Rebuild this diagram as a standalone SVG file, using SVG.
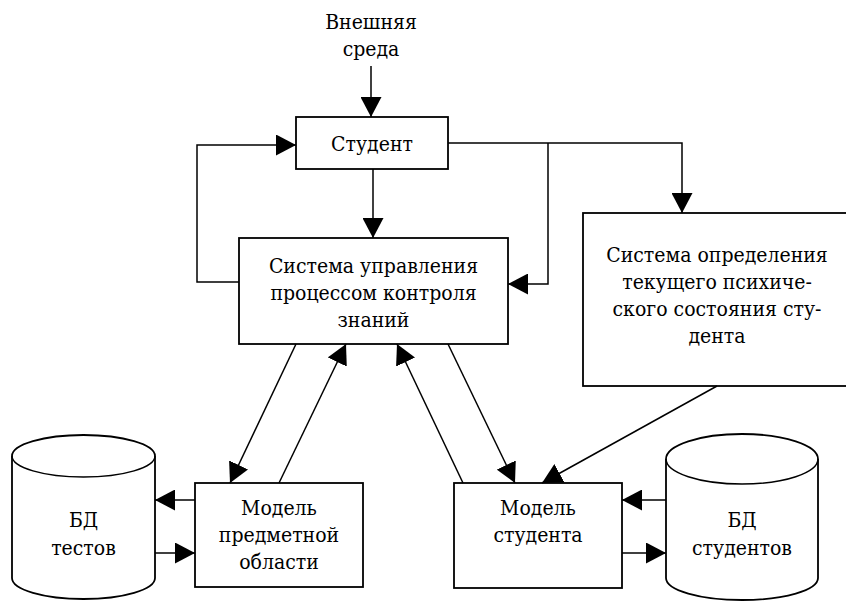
<svg xmlns="http://www.w3.org/2000/svg" width="846" height="601" viewBox="0 0 846 601">
<style>
.box{fill:#fff;stroke:#000;stroke-width:1.8}
.ln{fill:none;stroke:#000;stroke-width:1.5}
text{font-family:'DejaVu Serif Condensed','DejaVu Serif','Liberation Serif',serif;font-stretch:condensed;font-size:21px;fill:#000;text-anchor:middle}
</style>
<defs>
<marker id="ah" markerUnits="userSpaceOnUse" viewBox="0 0 20 21" refX="20" refY="10.5" markerWidth="20" markerHeight="21" orient="auto">
<path d="M0,0 L20,10.5 L0,21 z" fill="#000"/>
</marker>
</defs>
<rect width="846" height="601" fill="#fff"/>
<g id="env">
<text x="371" y="29">Внешняя</text>
<text x="371" y="56">среда</text>
</g>
<g id="student">
<rect class="box" x="296" y="117" width="152" height="52"/>
<text x="372" y="151">Студент</text>
</g>
<g id="control">
<rect class="box" x="239" y="238" width="269" height="106"/>
<text x="373.5" y="273">Система управления</text>
<text x="373.5" y="300">процессом контроля</text>
<text x="373.5" y="327">знаний</text>
</g>
<g id="psych">
<rect class="box" x="583" y="213" width="268" height="173"/>
<text x="717" y="262">Система определения</text>
<text x="717" y="289">текущего психиче-</text>
<text x="717" y="316">ского состояния сту-</text>
<text x="717" y="343">дента</text>
</g>
<g id="domain">
<rect class="box" x="195" y="483" width="168" height="104"/>
<text x="279" y="515">Модель</text>
<text x="279" y="542">предметной</text>
<text x="279" y="569">области</text>
</g>
<g id="smodel">
<rect class="box" x="454" y="483" width="168" height="105"/>
<text x="538" y="515">Модель</text>
<text x="538" y="542">студента</text>
</g>
<g id="dbtests">
<path class="box" d="M12,456 L12,578 A71.5,21 0 0 0 155,578 L155,456 A71.5,21 0 0 0 12,456 z"/>
<path class="ln" d="M12,456 A71.5,21 0 0 0 155,456"/>
<text x="83.5" y="527">БД</text>
<text x="83.5" y="555">тестов</text>
</g>
<g id="dbstudents">
<path class="box" d="M666,459 L666,578 A76,22 0 0 0 818,578 L818,459 A76,25 0 0 0 666,459 z"/>
<path class="ln" d="M666,459 A76,25 0 0 0 818,459"/>
<text x="742" y="527">БД</text>
<text x="742" y="555">студентов</text>
</g>
<g id="connectors">
<line class="ln" x1="371" y1="66" x2="371" y2="117" marker-end="url(#ah)"/>
<line class="ln" x1="373" y1="169" x2="373" y2="238" marker-end="url(#ah)"/>
<polyline class="ln" points="239,282 197,282 197,145 296,145" marker-end="url(#ah)"/>
<polyline class="ln" points="448,143 682,143 682,213" marker-end="url(#ah)"/>
<polyline class="ln" points="548,143 548,284 508,284" marker-end="url(#ah)"/>
<line class="ln" x1="296" y1="344" x2="230" y2="483" marker-end="url(#ah)"/>
<line class="ln" x1="279" y1="483" x2="346" y2="344" marker-end="url(#ah)"/>
<line class="ln" x1="463" y1="483" x2="397" y2="344" marker-end="url(#ah)"/>
<line class="ln" x1="448" y1="344" x2="515" y2="483" marker-end="url(#ah)"/>
<line class="ln" x1="717" y1="386" x2="542" y2="483" marker-end="url(#ah)"/>
<line class="ln" x1="195" y1="500" x2="155" y2="500" marker-end="url(#ah)"/>
<line class="ln" x1="155" y1="553" x2="195" y2="553" marker-end="url(#ah)"/>
<line class="ln" x1="666" y1="500" x2="622" y2="500" marker-end="url(#ah)"/>
<line class="ln" x1="622" y1="553" x2="666" y2="553" marker-end="url(#ah)"/>
</g>
</svg>
